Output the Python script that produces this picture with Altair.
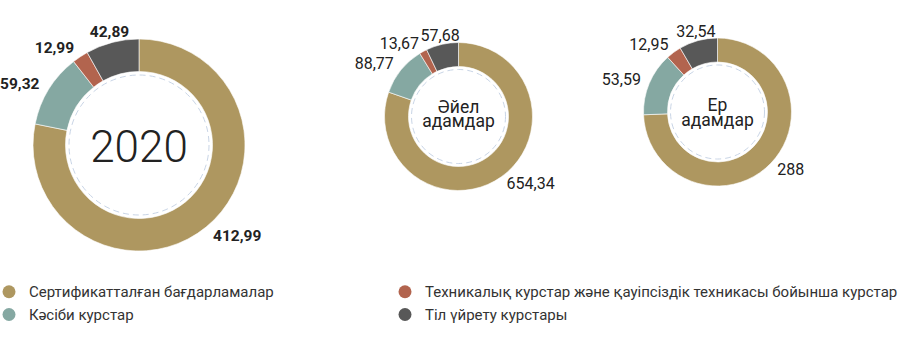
import math
import altair as alt
import pandas as pd

# ---- data ----
groups = ["2020", "Әйел адамдар", "Ер адамдар"]
categories = [
    "Сертификатталған бағдарламалар",
    "Кәсіби курстар",
    "Техникалық курстар және қауіпсіздік техникасы бойынша курстар",
    "Тіл үйрету курстары",
]
colors = ["#AE9760", "#85A8A2", "#B2644E", "#585858"]
values_2020 = [412.99, 59.32, 12.99, 42.89]
values_women = [654.34, 88.77, 13.67, 57.68]
values_men = [288, 53.59, 12.95, 32.54]

rows = []
for g, vals in zip(groups, [values_2020, values_women, values_men]):
    for i, (c, v) in enumerate(zip(categories, vals)):
        rows.append({"group": g, "category": c, "idx": i, "value": v})
df = pd.DataFrame(rows)

color_scale = alt.Scale(domain=categories, range=colors)

legend = alt.Legend(
    title=None, orient="none", legendX=1.5, legendY=284, columns=2,
    columnPadding=123, rowPadding=7, symbolType="circle", symbolSize=169,
    symbolOpacity=1, symbolStrokeWidth=0, labelFont="Roboto", labelFontSize=15,
    labelColor="#333333", labelOffset=12.5, labelLimit=700, padding=0,
)

# ---- layout (pixels) ----
layout = {
    "2020": dict(cx=139, cy=145, R=106, r=73.5, dash=70, lr=117, bold=True,
                 lsize=15.5, csize=44, cweight=300, lh=44, cdy=16.5),
    "Әйел адамдар": dict(cx=458.5, cy=116.5, R=74, r=50, dash=47, lr=83, bold=False,
                         lsize=16, csize=17.5, cweight=400, lh=14.5, cdy=-4),
    "Ер адамдар": dict(cx=717.5, cy=112, R=74, r=50, dash=47, lr=83, bold=False,
                       lsize=16, csize=17.5, cweight=400, lh=14.5, cdy=-1),
}

align_expr = ("abs(sin(2*PI*datum.mid)) < 0.35 ? 'center' : "
              "(sin(2*PI*datum.mid) > 0 ? 'left' : 'right')")

layers = []
for g in groups:
    L = layout[g]
    base = alt.Chart(df).transform_filter(alt.datum.group == g)
    arcs = base.mark_arc(radius=L["R"], radius2=L["r"], stroke="white", strokeWidth=0.6).encode(
        x=alt.value(L["cx"]), y=alt.value(L["cy"]),
        theta=alt.Theta("value:Q", stack="normalize"),
        order=alt.Order("idx:Q", sort="ascending"),
        color=alt.Color("category:N", scale=color_scale, legend=legend),
    )
    dashed = base.transform_filter(alt.datum.idx == 0).mark_point(
        shape="circle", size=(2 * L["dash"]) ** 2, filled=False, color="#c9d5e6",
        strokeWidth=1, strokeDash=[6, 4], opacity=1,
    ).encode(x=alt.value(L["cx"]), y=alt.value(L["cy"]))
    labels = base.transform_joinaggregate(total="sum(value)").transform_window(
        cum="sum(value)", sort=[alt.SortField("idx")], frame=[None, 0]
    ).transform_calculate(
        mid="(datum.cum - datum.value/2)/datum.total",
        lab="replace(toString(datum.value), '.', ',')",
    ).mark_text(
        radius=L["lr"], font="Roboto", fontSize=L["lsize"],
        fontWeight="bold" if L["bold"] else "normal", color="#222222",
        align=alt.expr(align_expr), baseline="middle",
    ).encode(
        x=alt.value(L["cx"]), y=alt.value(L["cy"]),
        theta=alt.Theta("mid:Q", scale=alt.Scale(domain=[0, 1], range=[0, 2 * math.pi])),
        text="lab:N",
    )
    center = base.transform_filter(alt.datum.idx == 0).mark_text(
        font="Roboto", fontSize=L["csize"], fontWeight=L["cweight"], color="#222222",
        lineBreak=" ", lineHeight=L["lh"], align="center", baseline="alphabetic",
        dy=L["cdy"],
    ).encode(x=alt.value(L["cx"]), y=alt.value(L["cy"]), text="group:N")
    layers += [arcs, dashed, labels, center]

chart = alt.layer(*layers).resolve_scale(theta="independent").properties(
    width=900, height=351, autosize="none", padding=0, background="white"
).configure_view(stroke=None)

chart.save("out.html", embed_options={"renderer": "svg", "actions": False})
